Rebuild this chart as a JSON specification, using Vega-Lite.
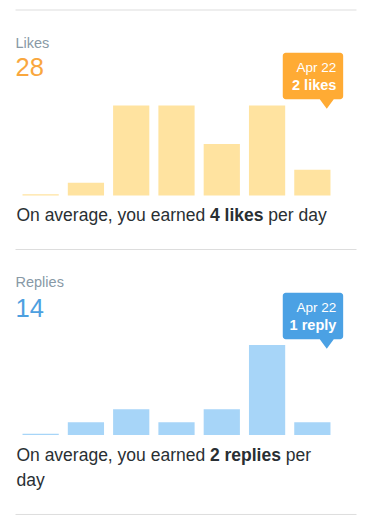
{
  "$schema": "https://vega.github.io/schema/vega-lite/v6.json",
  "padding": {"left": 14.5, "top": 9, "right": 0, "bottom": 0},
  "autosize": {"type": "pad"},
  "spacing": 53.5,
  "bounds": "flush",
  "config": {
    "view": {"stroke": null},
    "font": "Liberation Sans",
    "text": {"font": "Liberation Sans"}
  },
  "datasets": {
    "likes": [
      {"day": "Apr 16", "likes": 0.1},
      {"day": "Apr 17", "likes": 1},
      {"day": "Apr 18", "likes": 7},
      {"day": "Apr 19", "likes": 7},
      {"day": "Apr 20", "likes": 4},
      {"day": "Apr 21", "likes": 7},
      {"day": "Apr 22", "likes": 2}
    ],
    "replies": [
      {"day": "Apr 16", "replies": 0.1},
      {"day": "Apr 17", "replies": 1},
      {"day": "Apr 18", "replies": 2},
      {"day": "Apr 19", "replies": 1},
      {"day": "Apr 20", "replies": 2},
      {"day": "Apr 21", "replies": 7},
      {"day": "Apr 22", "replies": 1}
    ],
    "summary": [
      {"metric": "Likes", "total": 28, "average": 4},
      {"metric": "Replies", "total": 14, "average": 2}
    ]
  },
  "vconcat": [
    {
      "width": 341,
      "height": 185.5,
      "layer": [
        {
          "data": {"name": "summary"},
          "transform": [{"filter": "datum.metric === 'Likes'"}],
          "mark": {"type": "rule", "color": "#DDDDDD", "strokeWidth": 1},
          "encoding": {"y": {"datum": 14.428, "type": "quantitative", "axis": null}}
        },
        {
          "data": {"name": "likes"},
          "mark": {"type": "bar", "color": "#FFE3A0"},
          "encoding": {
            "x": {"field": "day", "type": "ordinal",
                  "scale": {"range": [0, 322], "paddingInner": 0.2, "paddingOuter": 0.155},
                  "axis": {"labels": false, "ticks": false, "title": null, "domainColor": "#D8DEE3", "domainWidth": 1}},
            "y": {"field": "likes", "type": "quantitative", "scale": {"domain": [0, 14.428], "nice": false}, "axis": null}
          }
        },
        {
          "data": {"name": "summary"},
          "transform": [{"filter": "datum.metric === 'Likes'"}],
          "mark": {"type": "text", "align": "left", "baseline": "alphabetic", "fontSize": 14.5, "color": "#8899A6", "dx": -7},
          "encoding": {
            "x": {"datum": "Apr 16", "type": "ordinal", "bandPosition": 0, "axis": null},
            "y": {"datum": 11.49, "type": "quantitative", "axis": null},
            "text": {"field": "metric"}
          }
        },
        {
          "data": {"name": "summary"},
          "transform": [{"filter": "datum.metric === 'Likes'"}],
          "mark": {"type": "text", "align": "left", "baseline": "alphabetic", "fontSize": 25.5, "color": "#F9A73E", "dx": -7},
          "encoding": {
            "x": {"datum": "Apr 16", "type": "ordinal", "bandPosition": 0, "axis": null},
            "y": {"datum": 9.28, "type": "quantitative", "axis": null},
            "text": {"field": "total"}
          }
        },
        {
          "data": {"name": "likes"},
          "transform": [{"filter": "datum.day === 'Apr 22'"}],
          "mark": {"type": "point", "filled": true, "opacity": 1, "size": 4, "color": "#FFAB34",
                   "shape": "M-26.6,-56H27.8A3,3,0,0,1,30.8,-53V-12.5A3,3,0,0,1,27.8,-9.5H21.4L14.4,0L7.4,-9.5H-26.6A3,3,0,0,1,-29.6,-12.5V-53A3,3,0,0,1,-26.6,-56Z"},
          "encoding": {
            "x": {"field": "day", "type": "ordinal", "axis": null},
            "y": {"datum": 6.75, "type": "quantitative", "axis": null}
          }
        },
        {
          "data": {"name": "likes"},
          "transform": [{"filter": "datum.day === 'Apr 22'"}],
          "mark": {"type": "text", "align": "right", "baseline": "alphabetic", "fontSize": 13.5, "color": "#FFFFFF", "dx": 24},
          "encoding": {
            "x": {"field": "day", "type": "ordinal", "axis": null},
            "y": {"datum": 9.59, "type": "quantitative", "axis": null},
            "text": {"field": "day"}
          }
        },
        {
          "data": {"name": "likes"},
          "transform": [{"filter": "datum.day === 'Apr 22'"}],
          "mark": {"type": "text", "align": "right", "baseline": "alphabetic", "fontSize": 14.5, "fontWeight": "bold", "color": "#FFFFFF", "dx": 24},
          "encoding": {
            "x": {"field": "day", "type": "ordinal", "axis": null},
            "y": {"datum": 8.17, "type": "quantitative", "axis": null},
            "text": {"value": "2 likes"}
          }
        },
        {
          "data": {"name": "summary"},
          "transform": [{"filter": "datum.metric === 'Likes'"}],
          "mark": {"type": "text", "align": "left", "baseline": "alphabetic", "fontSize": 17.5, "color": "#292F33", "dx": -6.1},
          "encoding": {
            "x": {"datum": "Apr 16", "type": "ordinal", "bandPosition": 0, "axis": null},
            "y": {"datum": -2.02, "type": "quantitative", "axis": null},
            "text": {"value": "On average, you earned"}
          }
        },
        {
          "data": {"name": "summary"},
          "transform": [{"filter": "datum.metric === 'Likes'"}],
          "mark": {"type": "text", "align": "left", "baseline": "alphabetic", "fontSize": 17.5, "fontWeight": "bold", "color": "#292F33", "dx": 187.4},
          "encoding": {
            "x": {"datum": "Apr 16", "type": "ordinal", "bandPosition": 0, "axis": null},
            "y": {"datum": -2.02, "type": "quantitative", "axis": null},
            "text": {"value": "4 likes"}
          }
        },
        {
          "data": {"name": "summary"},
          "transform": [{"filter": "datum.metric === 'Likes'"}],
          "mark": {"type": "text", "align": "left", "baseline": "alphabetic", "fontSize": 17.5, "color": "#292F33", "dx": 245.8},
          "encoding": {
            "x": {"datum": "Apr 16", "type": "ordinal", "bandPosition": 0, "axis": null},
            "y": {"datum": -2.02, "type": "quantitative", "axis": null},
            "text": {"value": "per day"}
          }
        }
      ]
    },
    {
      "width": 341,
      "height": 185.5,
      "layer": [
        {
          "data": {"name": "summary"},
          "transform": [{"filter": "datum.metric === 'Replies'"}],
          "mark": {"type": "rule", "color": "#DDDDDD", "strokeWidth": 1},
          "encoding": {"y": {"datum": 14.428, "type": "quantitative", "axis": null}}
        },
        {
          "data": {"name": "summary"},
          "transform": [{"filter": "datum.metric === 'Replies'"}],
          "mark": {"type": "rule", "color": "#DDDDDD", "strokeWidth": 1},
          "encoding": {"y": {"datum": -6.18, "type": "quantitative", "axis": null}}
        },
        {
          "data": {"name": "replies"},
          "mark": {"type": "bar", "color": "#A7D5F8"},
          "encoding": {
            "x": {"field": "day", "type": "ordinal",
                  "scale": {"range": [0, 322], "paddingInner": 0.2, "paddingOuter": 0.155},
                  "axis": {"labels": false, "ticks": false, "title": null, "domainColor": "#D8DEE3", "domainWidth": 1}},
            "y": {"field": "replies", "type": "quantitative", "scale": {"domain": [0, 14.428], "nice": false}, "axis": null}
          }
        },
        {
          "data": {"name": "summary"},
          "transform": [{"filter": "datum.metric === 'Replies'"}],
          "mark": {"type": "text", "align": "left", "baseline": "alphabetic", "fontSize": 14.5, "color": "#8899A6", "dx": -7},
          "encoding": {
            "x": {"datum": "Apr 16", "type": "ordinal", "bandPosition": 0, "axis": null},
            "y": {"datum": 11.49, "type": "quantitative", "axis": null},
            "text": {"field": "metric"}
          }
        },
        {
          "data": {"name": "summary"},
          "transform": [{"filter": "datum.metric === 'Replies'"}],
          "mark": {"type": "text", "align": "left", "baseline": "alphabetic", "fontSize": 25.5, "color": "#4DA0E0", "dx": -7},
          "encoding": {
            "x": {"datum": "Apr 16", "type": "ordinal", "bandPosition": 0, "axis": null},
            "y": {"datum": 9.2, "type": "quantitative", "axis": null},
            "text": {"field": "total"}
          }
        },
        {
          "data": {"name": "replies"},
          "transform": [{"filter": "datum.day === 'Apr 22'"}],
          "mark": {"type": "point", "filled": true, "opacity": 1, "size": 4, "color": "#4BA1E4",
                   "shape": "M-26.6,-56H27.8A3,3,0,0,1,30.8,-53V-12.5A3,3,0,0,1,27.8,-9.5H21.4L14.4,0L7.4,-9.5H-26.6A3,3,0,0,1,-29.6,-12.5V-53A3,3,0,0,1,-26.6,-56Z"},
          "encoding": {
            "x": {"field": "day", "type": "ordinal", "axis": null},
            "y": {"datum": 6.71, "type": "quantitative", "axis": null}
          }
        },
        {
          "data": {"name": "replies"},
          "transform": [{"filter": "datum.day === 'Apr 22'"}],
          "mark": {"type": "text", "align": "right", "baseline": "alphabetic", "fontSize": 13.5, "color": "#FFFFFF", "dx": 24},
          "encoding": {
            "x": {"field": "day", "type": "ordinal", "axis": null},
            "y": {"datum": 9.55, "type": "quantitative", "axis": null},
            "text": {"field": "day"}
          }
        },
        {
          "data": {"name": "replies"},
          "transform": [{"filter": "datum.day === 'Apr 22'"}],
          "mark": {"type": "text", "align": "right", "baseline": "alphabetic", "fontSize": 14.5, "fontWeight": "bold", "color": "#FFFFFF", "dx": 24},
          "encoding": {
            "x": {"field": "day", "type": "ordinal", "axis": null},
            "y": {"datum": 8.17, "type": "quantitative", "axis": null},
            "text": {"value": "1 reply"}
          }
        },
        {
          "data": {"name": "summary"},
          "transform": [{"filter": "datum.metric === 'Replies'"}],
          "mark": {"type": "text", "align": "left", "baseline": "alphabetic", "fontSize": 17.5, "color": "#292F33", "dx": -6.1},
          "encoding": {
            "x": {"datum": "Apr 16", "type": "ordinal", "bandPosition": 0, "axis": null},
            "y": {"datum": -2.02, "type": "quantitative", "axis": null},
            "text": {"value": "On average, you earned"}
          }
        },
        {
          "data": {"name": "summary"},
          "transform": [{"filter": "datum.metric === 'Replies'"}],
          "mark": {"type": "text", "align": "left", "baseline": "alphabetic", "fontSize": 17.5, "fontWeight": "bold", "color": "#292F33", "dx": 187.4},
          "encoding": {
            "x": {"datum": "Apr 16", "type": "ordinal", "bandPosition": 0, "axis": null},
            "y": {"datum": -2.02, "type": "quantitative", "axis": null},
            "text": {"value": "2 replies"}
          }
        },
        {
          "data": {"name": "summary"},
          "transform": [{"filter": "datum.metric === 'Replies'"}],
          "mark": {"type": "text", "align": "left", "baseline": "alphabetic", "fontSize": 17.5, "color": "#292F33", "dx": 263.3},
          "encoding": {
            "x": {"datum": "Apr 16", "type": "ordinal", "bandPosition": 0, "axis": null},
            "y": {"datum": -2.02, "type": "quantitative", "axis": null},
            "text": {"value": "per"}
          }
        },
        {
          "data": {"name": "summary"},
          "transform": [{"filter": "datum.metric === 'Replies'"}],
          "mark": {"type": "text", "align": "left", "baseline": "alphabetic", "fontSize": 17.5, "color": "#292F33", "dx": -6.1},
          "encoding": {
            "x": {"datum": "Apr 16", "type": "ordinal", "bandPosition": 0, "axis": null},
            "y": {"datum": -3.97, "type": "quantitative", "axis": null},
            "text": {"value": "day"}
          }
        }
      ]
    }
  ]
}
